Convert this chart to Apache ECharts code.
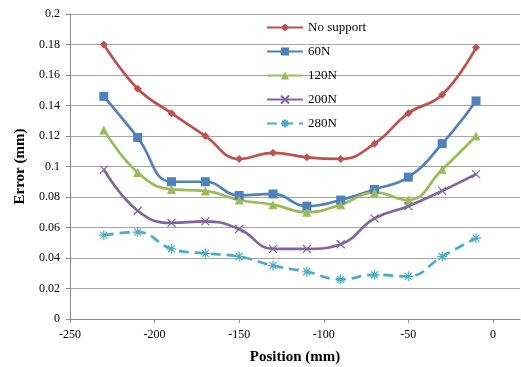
<!DOCTYPE html>
<html>
<head>
<meta charset="utf-8">
<script src="https://cdn.jsdelivr.net/npm/echarts@6/dist/echarts.min.js"></script>
<style>
  html, body { margin: 0; padding: 0; background: #fff; }
  #chart { width: 521px; height: 367px; }
</style>
</head>
<body>
<div id="chart"></div>
<script>
// Measurement positions along the part (mm)
const positions = [-230, -210, -190, -170, -150, -130, -110, -90, -70, -50, -30, -10];

// Error (mm) per support force
const noSupport = [0.180, 0.151, 0.135, 0.120, 0.105, 0.109, 0.106, 0.105, 0.115, 0.135, 0.147, 0.178];
const force60  = [0.146, 0.119, 0.090, 0.090, 0.081, 0.082, 0.074, 0.078, 0.085, 0.093, 0.115, 0.143];
const force120 = [0.124, 0.096, 0.085, 0.084, 0.078, 0.075, 0.070, 0.075, 0.083, 0.078, 0.098, 0.120];
const force200 = [0.098, 0.071, 0.063, 0.064, 0.059, 0.046, 0.046, 0.049, 0.066, 0.074, 0.084, 0.095];
const force280 = [0.055, 0.057, 0.046, 0.043, 0.041, 0.035, 0.031, 0.026, 0.029, 0.028, 0.041, 0.053];

const seriesNames = ['No support', '60N', '120N', '200N', '280N'];
const xTicks = [-250, -200, -150, -100, -50, 0];

const serif = '"Liberation Serif", "DejaVu Serif", serif';
const crossPath = 'path://M0,0L10,10M10,0L0,10';
const starPath = 'path://M5,0L5,10M0,5L10,5M1.5,1.5L8.5,8.5M8.5,1.5L1.5,8.5';

function pairs(ys) { return positions.map((x, i) => [x, ys[i]]); }

function makeSeries(name, ys, color, symbol, size, opts) {
  const stroke = symbol.startsWith('path://');
  return Object.assign({
    name: name,
    type: 'line',
    data: pairs(ys),
    smooth: 0.45,
    symbol: symbol,
    symbolSize: size,
    color: color,
    lineStyle: { color: color, width: 2.7 },
    itemStyle: stroke
      ? { color: 'rgba(0,0,0,0)', borderColor: color, borderWidth: 1.2 }
      : { color: color, borderWidth: 0 },
    emphasis: { disabled: true },
    z: 2
  }, opts || {});
}

const chart = echarts.init(document.getElementById('chart'), null, { renderer: 'canvas' });
chart.setOption({
  animation: false,
  backgroundColor: '#fff',
  grid: { left: 70, right: 1, top: 14, bottom: 48, containLabel: false, outerBoundsMode: 'none' },
  legend: {
    orient: 'vertical',
    left: 261,
    top: 16,
    itemWidth: 36,
    itemHeight: 10,
    itemGap: 11,
    textStyle: { fontFamily: serif, fontSize: 13, color: '#000' },
    data: seriesNames,
    selectedMode: false
  },
  xAxis: {
    type: 'value',
    min: -250,
    max: 16,
    interval: 50,
    name: 'Position (mm)',
    nameLocation: 'middle',
    nameGap: 31,
    nameTextStyle: { fontFamily: serif, fontSize: 15, fontWeight: 'bold', color: '#000' },
    axisLine: { show: true, onZero: false, lineStyle: { color: '#8c8c8c', width: 1 } },
    axisTick: { show: true, length: 4, inside: false, customValues: xTicks, lineStyle: { color: '#8c8c8c' } },
    axisLabel: { customValues: xTicks, fontFamily: serif, fontSize: 12, color: '#000', margin: 10 },
    splitLine: { show: false }
  },
  yAxis: {
    type: 'value',
    min: 0,
    max: 0.2,
    interval: 0.02,
    name: 'Error (mm)',
    nameLocation: 'middle',
    nameGap: 42,
    nameTextStyle: { fontFamily: serif, fontSize: 15, fontWeight: 'bold', color: '#000' },
    axisLine: { show: true, onZero: false, lineStyle: { color: '#8c8c8c', width: 1 } },
    axisTick: { show: true, length: 4, inside: false, lineStyle: { color: '#8c8c8c' } },
    axisLabel: {
      fontFamily: serif, fontSize: 12, color: '#000', margin: 10,
      formatter: v => String(parseFloat(v.toFixed(2)))
    },
    splitLine: { show: true, lineStyle: { color: '#a6a6a6', width: 1 } }
  },
  series: [
    makeSeries('No support', noSupport, '#C0504D', 'diamond', 8),
    makeSeries('60N', force60, '#4F81BD', 'rect', 9),
    makeSeries('120N', force120, '#9BBB59', 'triangle', 9),
    makeSeries('200N', force200, '#8064A2', crossPath, 8),
    makeSeries('280N', force280, '#4BACC6', starPath, 10, {
      lineStyle: { color: '#4BACC6', width: 2.7, type: [10, 6] }
    })
  ]
});
</script>
</body>
</html>
